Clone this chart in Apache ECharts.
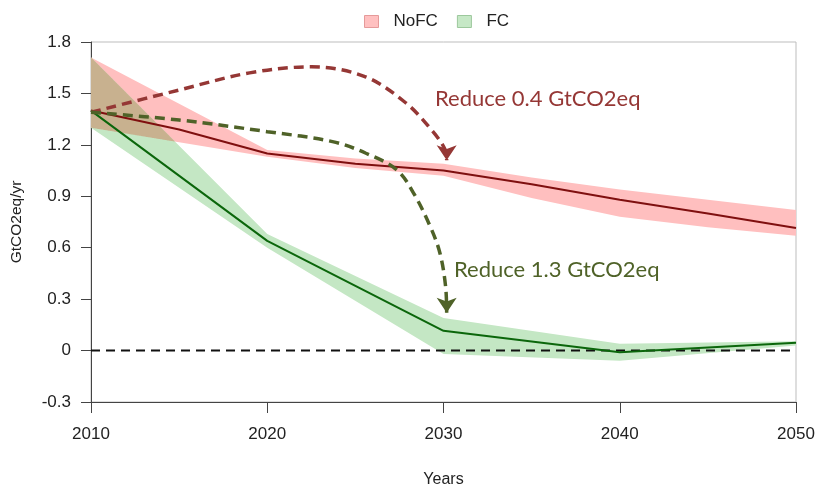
<!DOCTYPE html>
<html>
<head>
<meta charset="utf-8">
<script src="https://cdn.jsdelivr.net/npm/echarts@6/dist/echarts.min.js"></script>
<style>
  html, body { margin: 0; padding: 0; background: #fff; }
  #chart { width: 816px; height: 486px; }
</style>
</head>
<body>
<div id="chart"></div>
<script>
// NoFC scenario (5-year steps)
var noFcYears = [2010, 2015, 2020, 2025, 2030, 2035, 2040, 2045, 2050];
var noFcMid  = [1.40, 1.29, 1.15, 1.09, 1.05, 0.97, 0.88, 0.80, 0.715];
var noFcLow  = [1.30, 1.215, 1.13, 1.065, 1.02, 0.89, 0.78, 0.72, 0.67];
var noFcHigh = [1.71, 1.44, 1.17, 1.12, 1.09, 1.01, 0.94, 0.88, 0.82];

// FC scenario (10-year steps)
var fcYears = [2010, 2020, 2030, 2040, 2050];
var fcMid  = [1.40, 0.64, 0.115, -0.01, 0.045];
var fcLow  = [1.30, 0.60, -0.02, -0.06, 0.03];
var fcHigh = [1.71, 0.68, 0.19, 0.04, 0.055];

// zero reference
var zeroYears = [2010, 2050];
var zeroVals = [0, 0];

// annotation arrow paths
var redArrowX = [2010, 2015, 2019, 2022.5, 2025.5, 2027.8, 2029.3, 2030.1, 2030.18];
var redArrowY = [1.39, 1.52, 1.62, 1.655, 1.60, 1.45, 1.29, 1.17, 1.11];
var greenArrowX = [2010, 2015, 2020, 2023.7, 2025.6, 2027.35, 2028.3, 2029.25, 2029.8, 2030.12, 2030.18];
var greenArrowY = [1.39, 1.345, 1.277, 1.219, 1.151, 1.054, 0.919, 0.723, 0.568, 0.373, 0.22];

var xTicks = [2010, 2020, 2030, 2040, 2050];
var yTicks = [-0.3, 0, 0.3, 0.6, 0.9, 1.2, 1.5, 1.8];

function pairs(xs, ys) {
    var out = [];
    for (var i = 0; i < xs.length; i++) out.push([xs[i], ys[i]]);
    return out;
}

function interp(xs, ys, x) {
    for (var i = 0; i < xs.length - 1; i++) {
        if (x <= xs[i + 1]) {
            var t = (x - xs[i]) / (xs[i + 1] - xs[i]);
            return ys[i] + t * (ys[i + 1] - ys[i]);
        }
    }
    return ys[ys.length - 1];
}

// polygon band: upper edge forward, lower edge back
function bandSeries(name, xs, lo, hi, color) {
    return {
        name: name,
        type: 'custom',
        itemStyle: { color: color },
        data: [[xs[0], lo[0]]],
        z: 1,
        renderItem: function (params, api) {
            var pts = [];
            for (var i = 0; i < xs.length; i++) pts.push(api.coord([xs[i], hi[i]]));
            for (var j = xs.length - 1; j >= 0; j--) pts.push(api.coord([xs[j], lo[j]]));
            return { type: 'polygon', shape: { points: pts }, style: { fill: color } };
        }
    };
}

// where both bands overlap (drawn darker, like multiplied colours)
function overlapSeries(color) {
    return {
        type: 'custom',
        data: [[2010, 0]],
        z: 1,
        silent: true,
        renderItem: function (params, api) {
            var top = [], bot = [];
            for (var x = 2010; x <= 2050; x += 0.05) {
                var hi = Math.min(interp(noFcYears, noFcHigh, x), interp(fcYears, fcHigh, x));
                var lo = Math.max(interp(noFcYears, noFcLow, x), interp(fcYears, fcLow, x));
                if (hi <= lo) break;
                top.push(api.coord([x, hi]));
                bot.unshift(api.coord([x, lo]));
            }
            if (!top.length) return;
            return { type: 'polygon', shape: { points: top.concat(bot) }, style: { fill: color } };
        }
    };
}

function arrow(xs, ys, color) {
    var d = pairs(xs, ys);
    var last = d.pop();
    d.push({ value: last, symbol: 'arrow', symbolSize: [15, 15], symbolRotate: 180, itemStyle: { color: color } });
    return {
        type: 'line',
        data: d,
        smooth: 0.35,
        symbol: 'none',
        showSymbol: true,
        lineStyle: { color: color, width: 3.5, type: [10, 6] },
        z: 5
    };
}

var chart = echarts.init(document.getElementById('chart'));
chart.setOption({
    animation: false,
    textStyle: { fontFamily: '"Liberation Sans", Arial, sans-serif' },
    grid: {
        left: 91, right: 20, top: 42, bottom: 84,
        outerBoundsMode: 'none', containLabel: false,
        show: true, borderColor: '#bdbdbd', borderWidth: 1
    },
    legend: {
        left: 359, top: 8,
        itemWidth: 14, itemHeight: 12, itemGap: 19,
        textStyle: { fontSize: 17, color: '#222', padding: [0, 0, 0, 10] },
        data: [
            { name: 'NoFC', icon: 'rect', itemStyle: { color: '#ffc0c0', borderColor: '#e59a9a', borderWidth: 1 } },
            { name: 'FC', icon: 'rect', itemStyle: { color: '#c6e8c6', borderColor: '#9cc89c', borderWidth: 1 } }
        ]
    },
    xAxis: {
        type: 'value',
        min: xTicks[0], max: xTicks[xTicks.length - 1], interval: 10,
        name: 'Years', nameLocation: 'middle', nameGap: 70,
        nameTextStyle: { fontSize: 16, color: '#222' },
        axisLine: { onZero: false, lineStyle: { color: '#444', width: 1 } },
        axisTick: { length: 11, lineStyle: { color: '#444' } },
        axisLabel: { fontSize: 17, color: '#222', margin: 24, formatter: function (v) { return String(v); } },
        splitLine: { show: false }
    },
    yAxis: {
        type: 'value',
        min: yTicks[0], max: yTicks[yTicks.length - 1], interval: 0.3,
        name: 'GtCO2eq/yr', nameLocation: 'middle', nameGap: 66,
        nameTextStyle: { fontSize: 15.5, color: '#222' },
        axisLine: { show: true, onZero: false, lineStyle: { color: '#444', width: 1 } },
        axisTick: { show: true, length: 10, lineStyle: { color: '#444' } },
        axisLabel: {
            fontSize: 17, color: '#222', margin: 20,
            formatter: function (v) { return String(Math.round(v * 10) / 10); }
        },
        splitLine: { show: false }
    },
    graphic: [
        { type: 'text', left: 435, top: 88, style: { text: 'Reduce 0.4 GtCO2eq', font: '22px Lato, "Open Sans", sans-serif', fill: '#953735' } },
        { type: 'text', left: 454, top: 259, style: { text: 'Reduce 1.3 GtCO2eq', font: '22px Lato, "Open Sans", sans-serif', fill: '#4f6228' } }
    ],
    series: [
        bandSeries('NoFC', noFcYears, noFcLow, noFcHigh, '#ffbfbf'),
        bandSeries('FC', fcYears, fcLow, fcHigh, '#c4e7c4'),
        overlapSeries('#c8b18f'),
        {
            type: 'line', data: pairs(zeroYears, zeroVals), symbol: 'none', z: 3,
            lineStyle: { color: '#111', width: 2, type: [9, 6] }
        },
        {
            name: 'NoFC line', type: 'line', data: pairs(noFcYears, noFcMid), symbol: 'none', z: 4,
            lineStyle: { color: '#7f0f0f', width: 2 }
        },
        {
            name: 'FC line', type: 'line', data: pairs(fcYears, fcMid), symbol: 'none', z: 4,
            lineStyle: { color: '#0b660b', width: 2 }
        },
        arrow(redArrowX, redArrowY, '#953735'),
        arrow(greenArrowX, greenArrowY, '#4f6228')
    ]
});
</script>
</body>
</html>
